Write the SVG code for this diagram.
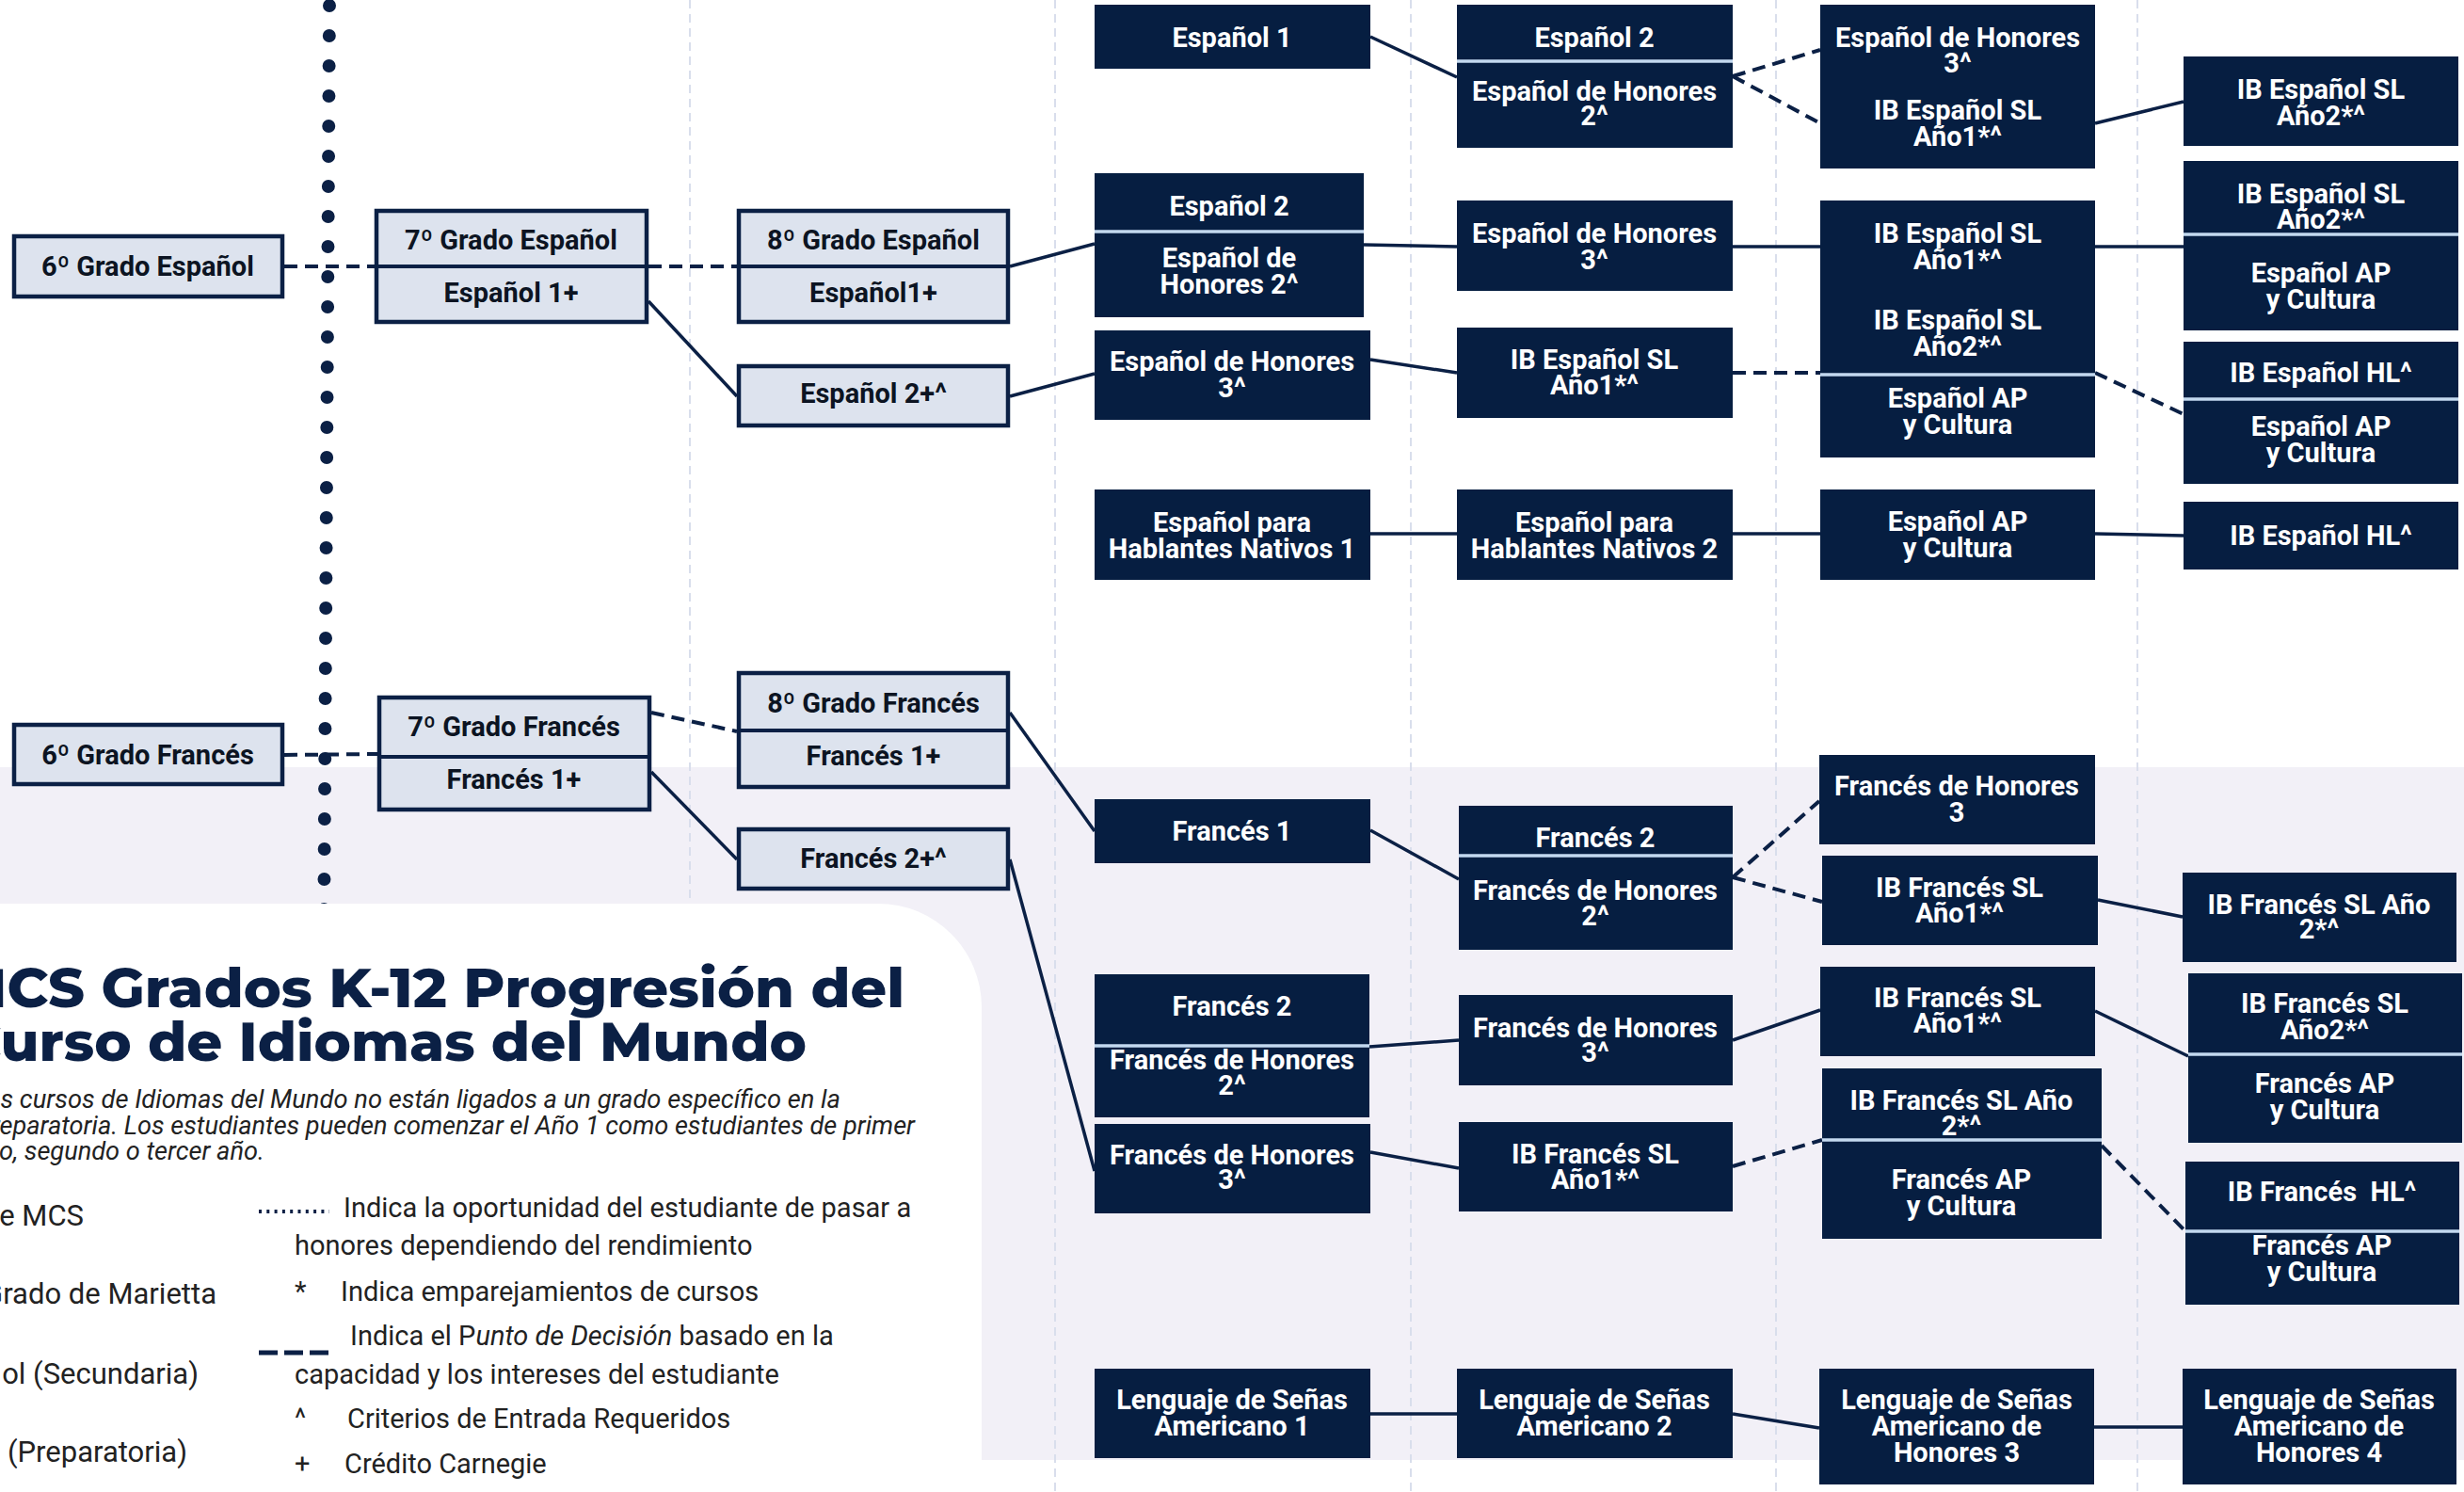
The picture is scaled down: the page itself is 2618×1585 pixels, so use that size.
<svg xmlns="http://www.w3.org/2000/svg" width="2618" height="1585" viewBox="0 0 2618 1585">
<style>
.lb{fill:#dde3ee;stroke:#0b2045;stroke-width:4.5}
.db{fill:#061e41}
.ldiv{stroke:#0b2045;stroke-width:4}
.ddiv{stroke:#c3d9ef;stroke-width:3.5}
.tl{font-family:Roboto,"Liberation Sans",sans-serif;font-weight:700;font-size:29px;fill:#0c1422;text-anchor:middle}
.td{font-family:Roboto,"Liberation Sans",sans-serif;font-weight:700;font-size:29px;fill:#ffffff;text-anchor:middle}
.c{stroke:#0b2045;stroke-width:3.5;fill:none}
.cd{stroke:#0b2045;stroke-width:4;fill:none;stroke-dasharray:14 8}
.grid{stroke:#d9deec;stroke-width:2;stroke-dasharray:9 6;fill:none}
.title{font-family:Montserrat,Inter,"Open Sans",sans-serif;font-weight:800;font-size:58px;fill:#0b2045}
.sub{font-family:Roboto,"Liberation Sans",sans-serif;font-style:italic;font-size:28px;fill:#222222}
.lg{font-family:Roboto,"Liberation Sans",sans-serif;font-size:29px;fill:#222222}
.lgl{font-family:Roboto,"Liberation Sans",sans-serif;font-size:31px;fill:#222222;text-anchor:end}
</style>
<rect x="0" y="0" width="2618" height="1585" fill="#ffffff"/>
<rect x="0" y="815" width="2618" height="736" fill="#f2f0f7"/>
<g id="gridlines">
<line class="grid" x1="733" y1="0" x2="733" y2="1585"/>
<line class="grid" x1="1121" y1="0" x2="1121" y2="1585"/>
<line class="grid" x1="1499" y1="0" x2="1499" y2="1585"/>
<line class="grid" x1="1887" y1="0" x2="1887" y2="1585"/>
<line class="grid" x1="2271" y1="0" x2="2271" y2="1585"/>
</g>
<path id="divider-dots" d="M350,6 L344.3,966" stroke="#0b2045" stroke-width="14" stroke-linecap="round" stroke-dasharray="0 32" fill="none"/>
<path id="card" d="M0,960 H933 A110,110 0 0 1 1043,1070 V1585 H0 Z" fill="#ffffff"/>

<g id="connectors">
<line class="cd" x1="302" y1="283" x2="398" y2="283"/>
<line class="cd" x1="689" y1="283" x2="783" y2="283"/>
<line class="c" x1="689" y1="320" x2="783" y2="421"/>
<line class="c" x1="1073" y1="283" x2="1163" y2="259"/>
<line class="c" x1="1073" y1="421" x2="1163" y2="397"/>
<line class="c" x1="1456" y1="39" x2="1548" y2="82"/>
<line class="cd" x1="1841" y1="81" x2="1934" y2="53"/>
<line class="cd" x1="1841" y1="81" x2="1934" y2="131"/>
<line class="c" x1="2226" y1="131" x2="2320" y2="108"/>
<line class="c" x1="1449" y1="260" x2="1548" y2="262"/>
<line class="c" x1="1841" y1="262" x2="1934" y2="262"/>
<line class="c" x1="2226" y1="262" x2="2320" y2="262"/>
<line class="c" x1="1456" y1="382" x2="1548" y2="396"/>
<line class="cd" x1="1841" y1="396" x2="1934" y2="396"/>
<line class="cd" x1="2226" y1="396" x2="2320" y2="440"/>
<line class="c" x1="1456" y1="567" x2="1548" y2="567"/>
<line class="c" x1="1841" y1="567" x2="1934" y2="567"/>
<line class="c" x1="2226" y1="567" x2="2320" y2="569"/>
<line class="cd" x1="302" y1="802" x2="401" y2="801"/>
<line class="cd" x1="692" y1="757" x2="783" y2="777"/>
<line class="c" x1="692" y1="820" x2="783" y2="913"/>
<line class="c" x1="1073" y1="757" x2="1163" y2="883"/>
<line class="c" x1="1073" y1="913" x2="1163" y2="1244"/>
<line class="c" x1="1456" y1="882" x2="1550" y2="934"/>
<line class="cd" x1="1841" y1="932" x2="1933" y2="851"/>
<line class="cd" x1="1841" y1="932" x2="1936" y2="958"/>
<line class="c" x1="2229" y1="956" x2="2319" y2="974"/>
<line class="c" x1="1455" y1="1112" x2="1550" y2="1105"/>
<line class="c" x1="1841" y1="1105" x2="1934" y2="1073"/>
<line class="c" x1="2226" y1="1074" x2="2325" y2="1122"/>
<line class="c" x1="1456" y1="1224" x2="1550" y2="1241"/>
<line class="cd" x1="1841" y1="1239" x2="1936" y2="1211"/>
<line class="cd" x1="2233" y1="1217" x2="2322" y2="1308"/>
<line class="c" x1="1456" y1="1502" x2="1548" y2="1502"/>
<line class="c" x1="1841" y1="1502" x2="1933" y2="1517"/>
<line class="c" x1="2225" y1="1516" x2="2319" y2="1516"/>
</g>

<g id="n-es6"><rect class="lb" x="15" y="251" width="285" height="64"/><text class="tl" x="157" y="293">6º Grado Español</text></g>
<g id="n-es7"><rect class="lb" x="400" y="224" width="287" height="118"/><line class="ldiv" x1="400" y1="283" x2="687" y2="283"/><text class="tl" x="543" y="265">7º Grado Español</text><text class="tl" x="543" y="321">Español 1+</text></g>
<g id="n-es8"><rect class="lb" x="785" y="224" width="286" height="118"/><line class="ldiv" x1="785" y1="283" x2="1071" y2="283"/><text class="tl" x="928" y="265">8º Grado Español</text><text class="tl" x="928" y="321">Español1+</text></g>
<g id="n-es2p"><rect class="lb" x="785" y="389" width="286" height="63"/><text class="tl" x="928" y="428">Español 2+^</text></g>

<g id="n-es-c3a"><rect class="db" x="1163" y="5" width="293" height="68"/><text class="td" x="1309" y="50">Español 1</text></g>
<g id="n-es-c3b"><rect class="db" x="1163" y="184" width="286" height="153"/><line class="ddiv" x1="1163" y1="246" x2="1449" y2="246"/><text class="td" x="1306" y="229">Español 2</text><text class="td" x="1306" y="284">Español de</text><text class="td" x="1306" y="312">Honores 2^</text></g>
<g id="n-es-c3c"><rect class="db" x="1163" y="351" width="293" height="95"/><text class="td" x="1309" y="394">Español de Honores</text><text class="td" x="1309" y="422">3^</text></g>
<g id="n-es-c3d"><rect class="db" x="1163" y="520" width="293" height="96"/><text class="td" x="1309" y="565">Español para</text><text class="td" x="1309" y="593">Hablantes Nativos 1</text></g>

<g id="n-es-c4a"><rect class="db" x="1548" y="5" width="293" height="152"/><line class="ddiv" x1="1548" y1="65" x2="1841" y2="65"/><text class="td" x="1694" y="50">Español 2</text><text class="td" x="1694" y="107">Español de Honores</text><text class="td" x="1694" y="133">2^</text></g>
<g id="n-es-c4b"><rect class="db" x="1548" y="213" width="293" height="96"/><text class="td" x="1694" y="258">Español de Honores</text><text class="td" x="1694" y="286">3^</text></g>
<g id="n-es-c4c"><rect class="db" x="1548" y="348" width="293" height="96"/><text class="td" x="1694" y="392">IB Español SL</text><text class="td" x="1694" y="419">Año1*^</text></g>
<g id="n-es-c4d"><rect class="db" x="1548" y="520" width="293" height="96"/><text class="td" x="1694" y="565">Español para</text><text class="td" x="1694" y="593">Hablantes Nativos 2</text></g>

<g id="n-es-c5a"><rect class="db" x="1934" y="5" width="292" height="174"/><text class="td" x="2080" y="50">Español de Honores</text><text class="td" x="2080" y="77">3^</text><text class="td" x="2080" y="127">IB Español SL</text><text class="td" x="2080" y="155">Año1*^</text></g>
<g id="n-es-c5b"><rect class="db" x="1934" y="213" width="292" height="273"/><line class="ddiv" x1="1934" y1="398" x2="2226" y2="398"/><text class="td" x="2080" y="258">IB Español SL</text><text class="td" x="2080" y="286">Año1*^</text><text class="td" x="2080" y="350">IB Español SL</text><text class="td" x="2080" y="378">Año2*^</text><text class="td" x="2080" y="433">Español AP</text><text class="td" x="2080" y="461">y Cultura</text></g>
<g id="n-es-c5c"><rect class="db" x="1934" y="520" width="292" height="96"/><text class="td" x="2080" y="564">Español AP</text><text class="td" x="2080" y="592">y Cultura</text></g>

<g id="n-es-c6a"><rect class="db" x="2320" y="60" width="292" height="95"/><text class="td" x="2466" y="105">IB Español SL</text><text class="td" x="2466" y="133">Año2*^</text></g>
<g id="n-es-c6b"><rect class="db" x="2320" y="171" width="292" height="180"/><line class="ddiv" x1="2320" y1="249" x2="2612" y2="249"/><text class="td" x="2466" y="216">IB Español SL</text><text class="td" x="2466" y="243">Año2*^</text><text class="td" x="2466" y="300">Español AP</text><text class="td" x="2466" y="328">y Cultura</text></g>
<g id="n-es-c6c"><rect class="db" x="2320" y="363" width="292" height="151"/><line class="ddiv" x1="2320" y1="424" x2="2612" y2="424"/><text class="td" x="2466" y="406">IB Español HL^</text><text class="td" x="2466" y="463">Español AP</text><text class="td" x="2466" y="491">y Cultura</text></g>
<g id="n-es-c6d"><rect class="db" x="2320" y="533" width="292" height="72"/><text class="td" x="2466" y="579">IB Español HL^</text></g>

<g id="n-fr6"><rect class="lb" x="15" y="770" width="285" height="63"/><text class="tl" x="157" y="812">6º Grado Francés</text></g>
<g id="n-fr7"><rect class="lb" x="403" y="741" width="287" height="119"/><line class="ldiv" x1="403" y1="804" x2="690" y2="804"/><text class="tl" x="546" y="782">7º Grado Francés</text><text class="tl" x="546" y="838">Francés 1+</text></g>
<g id="n-fr8"><rect class="lb" x="785" y="715" width="286" height="121"/><line class="ldiv" x1="785" y1="776" x2="1071" y2="776"/><text class="tl" x="928" y="757">8º Grado Francés</text><text class="tl" x="928" y="813">Francés 1+</text></g>
<g id="n-fr2p"><rect class="lb" x="785" y="881" width="286" height="63"/><text class="tl" x="928" y="922">Francés 2+^</text></g>

<g id="n-fr-c3a"><rect class="db" x="1163" y="849" width="293" height="68"/><text class="td" x="1309" y="893">Francés 1</text></g>
<g id="n-fr-c3b"><rect class="db" x="1163" y="1035" width="292" height="152"/><line class="ddiv" x1="1163" y1="1111" x2="1455" y2="1111"/><text class="td" x="1309" y="1079">Francés 2</text><text class="td" x="1309" y="1136">Francés de Honores</text><text class="td" x="1309" y="1163">2^</text></g>
<g id="n-fr-c3c"><rect class="db" x="1163" y="1194" width="293" height="95"/><text class="td" x="1309" y="1237">Francés de Honores</text><text class="td" x="1309" y="1263">3^</text></g>

<g id="n-fr-c4a"><rect class="db" x="1550" y="856" width="291" height="153"/><line class="ddiv" x1="1550" y1="909" x2="1841" y2="909"/><text class="td" x="1695" y="900">Francés 2</text><text class="td" x="1695" y="956">Francés de Honores</text><text class="td" x="1695" y="983">2^</text></g>
<g id="n-fr-c4b"><rect class="db" x="1550" y="1057" width="291" height="96"/><text class="td" x="1695" y="1102">Francés de Honores</text><text class="td" x="1695" y="1128">3^</text></g>
<g id="n-fr-c4c"><rect class="db" x="1550" y="1192" width="291" height="95"/><text class="td" x="1695" y="1236">IB Francés SL</text><text class="td" x="1695" y="1263">Año1*^</text></g>

<g id="n-fr-c5a"><rect class="db" x="1933" y="802" width="293" height="95"/><text class="td" x="2079" y="845">Francés de Honores</text><text class="td" x="2079" y="873">3</text></g>
<g id="n-fr-c5b"><rect class="db" x="1936" y="909" width="293" height="95"/><text class="td" x="2082" y="953">IB Francés SL</text><text class="td" x="2082" y="980">Año1*^</text></g>
<g id="n-fr-c5c"><rect class="db" x="1934" y="1027" width="292" height="95"/><text class="td" x="2080" y="1070">IB Francés SL</text><text class="td" x="2080" y="1097">Año1*^</text></g>
<g id="n-fr-c5d"><rect class="db" x="1936" y="1135" width="297" height="181"/><line class="ddiv" x1="1936" y1="1211" x2="2233" y2="1211"/><text class="td" x="2084" y="1179">IB Francés SL Año</text><text class="td" x="2084" y="1206">2*^</text><text class="td" x="2084" y="1263">Francés AP</text><text class="td" x="2084" y="1291">y Cultura</text></g>

<g id="n-fr-c6a"><rect class="db" x="2319" y="927" width="291" height="95"/><text class="td" x="2464" y="971">IB Francés SL Año</text><text class="td" x="2464" y="997">2*^</text></g>
<g id="n-fr-c6b"><rect class="db" x="2325" y="1034" width="291" height="180"/><line class="ddiv" x1="2325" y1="1120" x2="2616" y2="1120"/><text class="td" x="2470" y="1076">IB Francés SL</text><text class="td" x="2470" y="1104">Año2*^</text><text class="td" x="2470" y="1161">Francés AP</text><text class="td" x="2470" y="1189">y Cultura</text></g>
<g id="n-fr-c6c"><rect class="db" x="2322" y="1234" width="291" height="152"/><line class="ddiv" x1="2322" y1="1308" x2="2613" y2="1308"/><text class="td" x="2467" y="1276" style="white-space:pre">IB Francés  HL^</text><text class="td" x="2467" y="1333">Francés AP</text><text class="td" x="2467" y="1361">y Cultura</text></g>

<g id="n-asl1"><rect class="db" x="1163" y="1454" width="293" height="95"/><text class="td" x="1309" y="1497">Lenguaje de Señas</text><text class="td" x="1309" y="1525">Americano 1</text></g>
<g id="n-asl2"><rect class="db" x="1548" y="1454" width="293" height="95"/><text class="td" x="1694" y="1497">Lenguaje de Señas</text><text class="td" x="1694" y="1525">Americano 2</text></g>
<g id="n-asl3"><rect class="db" x="1933" y="1454" width="292" height="123"/><text class="td" x="2079" y="1497">Lenguaje de Señas</text><text class="td" x="2079" y="1525">Americano de</text><text class="td" x="2079" y="1553">Honores 3</text></g>
<g id="n-asl4"><rect class="db" x="2319" y="1454" width="291" height="123"/><text class="td" x="2464" y="1497">Lenguaje de Señas</text><text class="td" x="2464" y="1525">Americano de</text><text class="td" x="2464" y="1553">Honores 4</text></g>

<g id="title">
<text class="title" x="-50" y="1070" textLength="1011" lengthAdjust="spacingAndGlyphs">MCS Grados K-12 Progresión del</text>
<text class="title" x="-42" y="1127" textLength="899" lengthAdjust="spacingAndGlyphs">Curso de Idiomas del Mundo</text>
<text class="sub" x="-29" y="1177" textLength="922" lengthAdjust="spacingAndGlyphs">Los cursos de Idiomas del Mundo no están ligados a un grado específico en la</text>
<text class="sub" x="-24" y="1205" textLength="996" lengthAdjust="spacingAndGlyphs">preparatoria. Los estudiantes pueden comenzar el Año 1 como estudiantes de primer</text>
<text class="sub" x="-30" y="1232" textLength="311" lengthAdjust="spacingAndGlyphs">año, segundo o tercer año.</text>
</g>

<g id="legend">
<text class="lgl" x="89" y="1302">e MCS</text>
<text class="lgl" x="230" y="1385">Grado de Marietta</text>
<text class="lgl" x="211" y="1470">ol (Secundaria)</text>
<text class="lgl" x="199" y="1553">(Preparatoria)</text>
<line x1="275" y1="1287" x2="350" y2="1287" stroke="#0b2045" stroke-width="4" stroke-dasharray="3 5.3"/>
<text class="lg" x="365" y="1293">Indica la oportunidad del estudiante de pasar a</text>
<text class="lg" x="313" y="1333">honores dependiendo del rendimiento</text>
<text class="lg" x="313" y="1382">*</text>
<text class="lg" x="362" y="1382">Indica emparejamientos de cursos</text>
<line x1="275" y1="1437" x2="350" y2="1437" stroke="#0b2045" stroke-width="5" stroke-dasharray="20 7"/>
<text class="lg" x="372" y="1429">Indica el P<tspan font-style="italic">unto de Decisión</tspan> basado en la</text>
<text class="lg" x="313" y="1470">capacidad y los intereses del estudiante</text>
<text class="lg" x="313" y="1517">^</text>
<text class="lg" x="369" y="1517">Criterios de Entrada Requeridos</text>
<text class="lg" x="313" y="1565">+</text>
<text class="lg" x="366" y="1565">Crédito Carnegie</text>
</g>
</svg>
